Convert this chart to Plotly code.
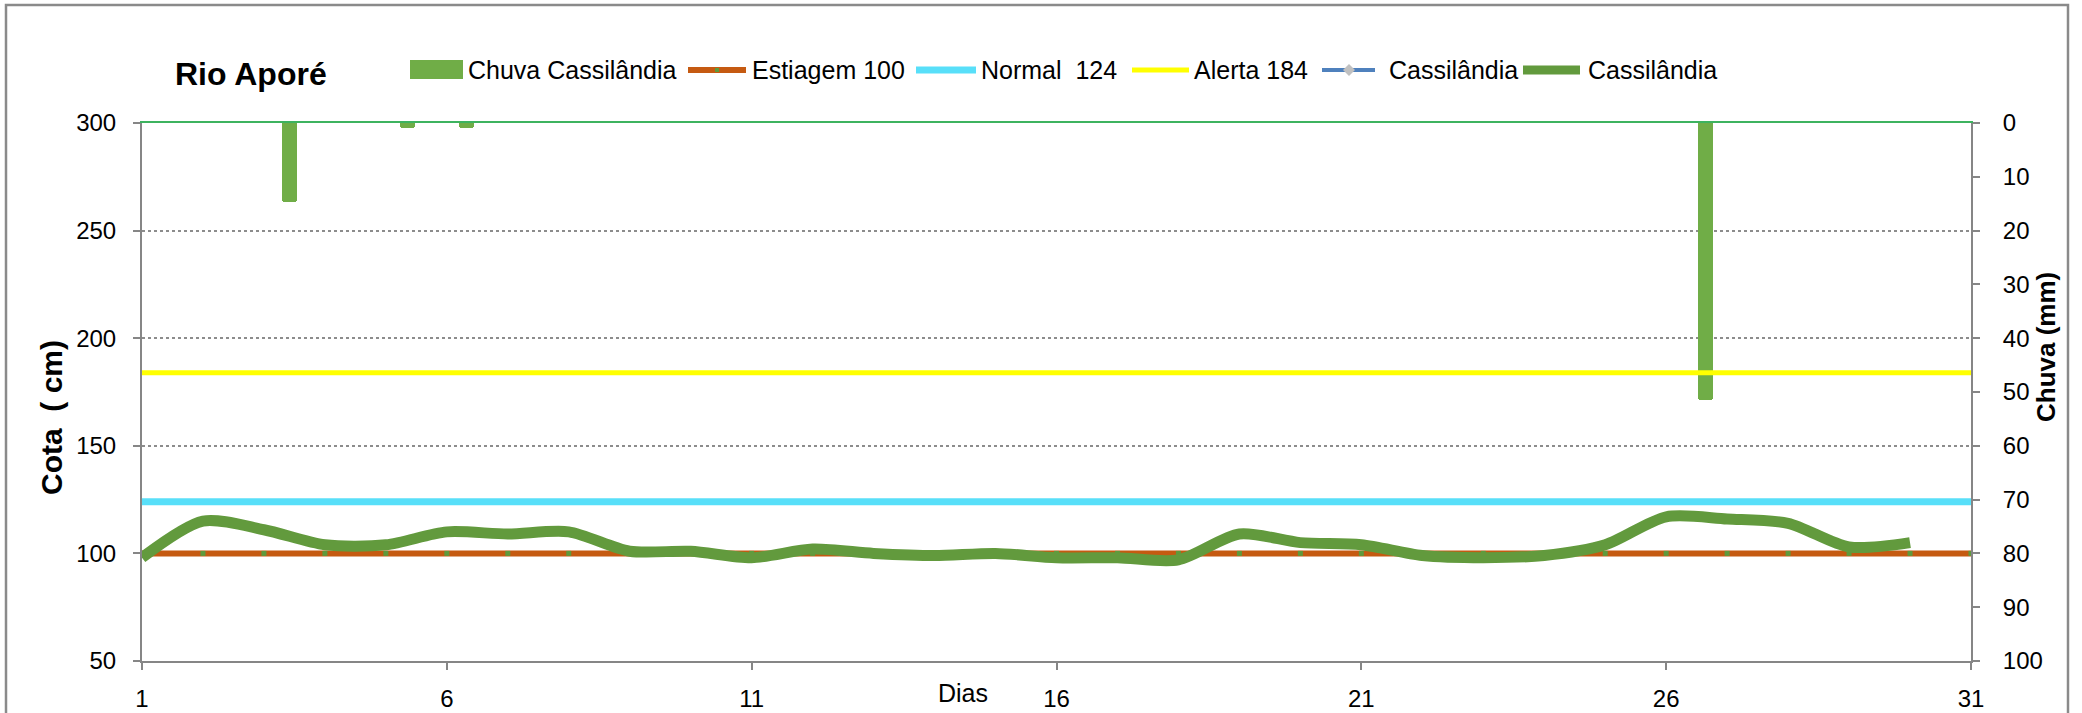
import plotly.graph_objects as go

# ---------------- data ----------------
days = list(range(1, 32))                 # 31 days of the month
cota_days = list(range(1, 31))            # level readings available for days 1..30
cota = [98, 115, 111, 104, 104, 110, 109, 110, 101, 101,
        98, 102, 100, 99, 100, 98, 98, 97, 109, 105,
        104, 99, 98, 99, 104, 117, 116, 114, 103, 105]
chuva = [0, 0, 14.6, 0, 1, 1, 0, 0, 0, 0,
         0, 0, 0, 0, 0, 0, 0, 0, 0, 0,
         0, 0, 0, 0, 0, 0, 51.5, 0, 0, 0, 0]
ESTIAGEM = 100
NORMAL = 124
ALERTA = 184
x_ticks = [1, 6, 11, 16, 21, 26, 31]
cota_ticks = [50, 100, 150, 200, 250, 300]
chuva_ticks = [0, 10, 20, 30, 40, 50, 60, 70, 80, 90, 100]

estiagem = [ESTIAGEM] * len(days)
normal = [NORMAL] * len(days)
alerta = [ALERTA] * len(days)

# ---------------- layout helpers (pixel -> paper) ----------------
W, H = 2082, 713
L, R, T, B = 142, 1971, 123, 661


def px(x):
    return (x - L) / (R - L)


def py(y):
    return (B - y) / (B - T)


FONT = "Liberation Sans, Arial, sans-serif"
GREY = "#868686"
C_BAR = "#70AD47"
C_ORANGE = "#C55A11"
C_CYAN = "#58DFF9"
C_YELLOW = "#FFFF00"
C_GREEN = "#629A3D"
C_DOT = "#5E9A3C"
C_BLUE = "#4F81BD"

fig = go.Figure()

# rain bars (base subplot, secondary scale on the right, reversed)
fig.add_trace(go.Bar(x=days, y=chuva, xaxis="x", yaxis="y", width=0.26,
                     marker=dict(color=C_BAR, line_width=0, cornerradius=3),
                     name="Chuva Cassilândia", showlegend=False))

# reference levels and river level (overlay subplot, drawn above bars)
fig.add_trace(go.Scatter(x=days, y=estiagem, xaxis="x2", yaxis="y2", mode="lines+markers",
                         line=dict(color=C_ORANGE, width=6),
                         marker=dict(symbol="square", size=5, color=C_DOT),
                         name="Estiagem 100", showlegend=False))
fig.add_trace(go.Scatter(x=days, y=normal, xaxis="x2", yaxis="y2", mode="lines",
                         line=dict(color=C_CYAN, width=7),
                         name="Normal  124", showlegend=False))
fig.add_trace(go.Scatter(x=days, y=alerta, xaxis="x2", yaxis="y2", mode="lines",
                         line=dict(color=C_YELLOW, width=5),
                         name="Alerta 184", showlegend=False))
fig.add_trace(go.Scatter(x=cota_days, y=cota, xaxis="x2", yaxis="y2", mode="lines",
                         line=dict(color=C_GREEN, width=11, shape="spline", smoothing=0.8),
                         name="Cassilândia", showlegend=False))

tickfont = dict(family=FONT, size=24, color="black")

fig.update_layout(
    width=W, height=H, autosize=False,
    margin=dict(l=L, r=W - R, t=T, b=H - B, pad=0, autoexpand=False),
    paper_bgcolor="white", plot_bgcolor="white",
    showlegend=False,
    bargap=0,
    xaxis=dict(domain=[0, 1], range=[0.5, 31.5], side="top", anchor="y", automargin=False,
               showline=True, linecolor="#3DB35F", linewidth=2,
               showticklabels=False, ticks="", showgrid=False, zeroline=False),
    yaxis=dict(range=[100, 0], side="right", anchor="x", tickvals=chuva_ticks, automargin=False,
               ticks="outside", ticklen=7, tickwidth=2, tickcolor=GREY,
               showline=True, linecolor=GREY, linewidth=2,
               showgrid=False, zeroline=False, tickfont=tickfont,
               ticklabelstandoff=18),
    xaxis2=dict(overlaying="x", anchor="y2", side="bottom", range=[1, 31], automargin=False,
                tickvals=x_ticks, ticks="outside", ticklen=7, tickwidth=2, tickcolor=GREY,
                showline=True, linecolor=GREY, linewidth=2,
                showgrid=False, zeroline=False, tickfont=tickfont,
                ticklabelstandoff=8),
    yaxis2=dict(overlaying="y", anchor="x2", side="left", range=[50, 300], automargin=False,
                tickvals=cota_ticks, ticks="outside", ticklen=7, tickwidth=2, tickcolor=GREY,
                showline=True, linecolor=GREY, linewidth=2,
                showgrid=True, gridcolor="#8C8C8C", griddash="dot", gridwidth=1.5,
                zeroline=False, tickfont=tickfont, ticklabelstandoff=12),
)

annotations = []
shapes = []

# outer chart border
shapes.append(dict(type="rect", xref="paper", yref="paper",
                   x0=px(6), x1=px(2068), y0=py(730), y1=py(5),
                   line=dict(color="#8A8A8A", width=2.5), fillcolor="rgba(0,0,0,0)",
                   layer="below"))

# title
annotations.append(dict(text="<b>Rio Aporé</b>", x=px(251), y=py(74), xref="paper", yref="paper",
                        xanchor="center", yanchor="middle", showarrow=False,
                        font=dict(family=FONT, size=32, color="black")))
# axis titles
annotations.append(dict(text="<b>Cota\u00a0\u00a0( cm)</b>", x=px(51), y=py(418), xref="paper", yref="paper",
                        xanchor="center", yanchor="middle", showarrow=False, textangle=-90,
                        font=dict(family=FONT, size=30, color="black")))
annotations.append(dict(text="<b>Chuva (mm)</b>", x=px(2046), y=py(347), xref="paper", yref="paper",
                        xanchor="center", yanchor="middle", showarrow=False, textangle=-90,
                        font=dict(family=FONT, size=26, color="black")))
annotations.append(dict(text="Dias", x=px(963), y=py(693), xref="paper", yref="paper",
                        xanchor="center", yanchor="middle", showarrow=False,
                        font=dict(family=FONT, size=25, color="black")))

# manual legend
LY = 70
legend_font = dict(family=FONT, size=25, color="black")


def leg_text(txt, x):
    annotations.append(dict(text=txt, x=px(x), y=py(LY), xref="paper", yref="paper",
                            xanchor="left", yanchor="middle", showarrow=False, font=legend_font))


def leg_line(x0, x1, color, width):
    shapes.append(dict(type="line", xref="paper", yref="paper", x0=px(x0), x1=px(x1),
                       y0=py(LY), y1=py(LY), line=dict(color=color, width=width)))


shapes.append(dict(type="rect", xref="paper", yref="paper", x0=px(410), x1=px(463),
                   y0=py(79), y1=py(60), fillcolor=C_BAR, line=dict(width=0)))
leg_text("Chuva Cassilândia", 466)
leg_line(688, 746, C_ORANGE, 6)
shapes.append(dict(type="rect", xref="paper", yref="paper", x0=px(715), x1=px(719),
                   y0=py(LY + 2), y1=py(LY - 2), fillcolor=C_DOT, line=dict(width=0)))
leg_text("Estiagem 100", 750)
leg_line(916, 976, C_CYAN, 7)
leg_text("Normal\u00a0\u00a0124", 979)
leg_line(1132, 1189, C_YELLOW, 5)
leg_text("Alerta 184", 1192)
leg_line(1322, 1375, C_BLUE, 4)
shapes.append(dict(type="path", xref="paper", yref="paper",
                   path="M {} {} L {} {} L {} {} L {} {} Z".format(
                       px(1349), py(LY - 6), px(1355), py(LY), px(1349), py(LY + 6), px(1343), py(LY)),
                   fillcolor="#C0C0C0", line=dict(width=0)))
leg_text("Cassilândia", 1387)
leg_line(1523, 1580, C_GREEN, 9)
leg_text("Cassilândia", 1586)

fig.update_layout(annotations=annotations, shapes=shapes)

fig.write_html("out.html", config={"displayModeBar": False},
               post_script="document.body.style.margin='0';document.body.style.overflow='hidden';")
